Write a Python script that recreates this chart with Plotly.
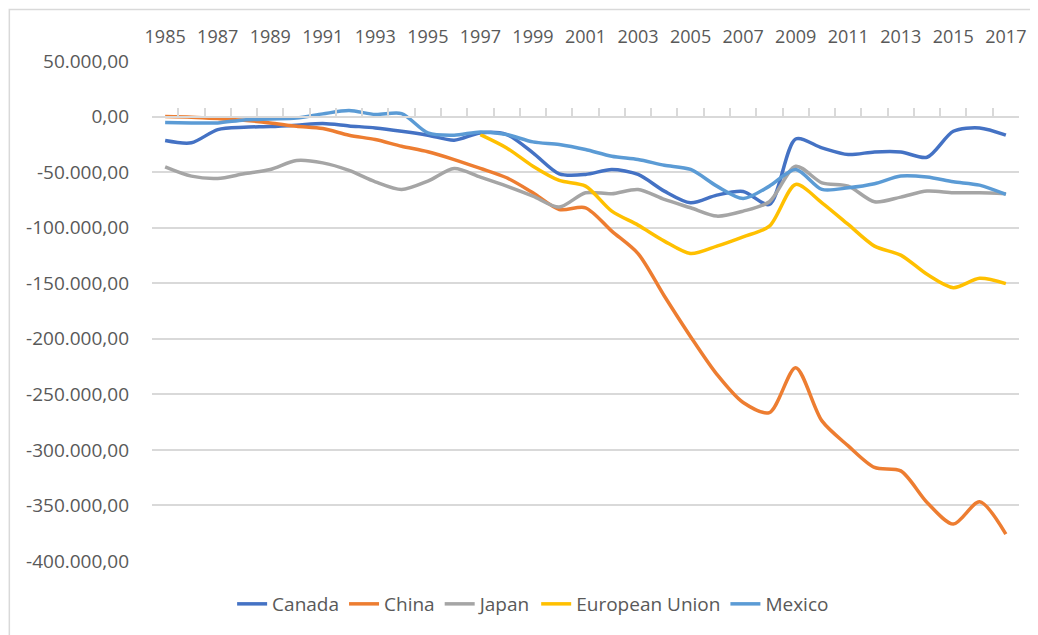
import plotly.graph_objects as go

years = list(range(1985, 2018))

canada = [-21600, -23600, -11700, -9600, -9000, -7800, -6300, -8400, -10200, -13200,
          -16800, -21300, -14700, -16200, -32600, -51500, -52100, -47700, -52100, -67100,
          -77600, -70700, -67400, -79100, -20200, -28200, -34200, -31800, -31800, -36600,
          -13200, -10200, -16800]
china = [0, -600, -1800, -3300, -5700, -8700, -10800, -16800, -20700, -26700,
         -31700, -38700, -46700, -55100, -68600, -83600, -82100, -103100, -123300, -161500,
         -198100, -232000, -257400, -266400, -226000, -273900, -296400, -315800, -318900, -347300,
         -366800, -346700, -375800]
japan = [-45200, -53600, -55700, -51500, -47600, -39600, -41700, -48500, -58700, -65600,
         -58100, -46700, -54500, -62600, -71600, -81500, -68600, -69500, -65600, -74600,
         -82100, -89600, -85100, -76700, -44700, -59600, -62600, -76700, -72500, -67100,
         -68600, -68600, -69500]
eu = [None] * 12 + [-16200, -28200, -44700, -57500, -62600, -85100, -97700, -112100,
                    -123300, -116600, -108200, -98600, -61100, -77600, -97100, -116600, -124700, -142000,
                    -154000, -145600, -150400]
mexico = [-5400, -5700, -5700, -3000, -2100, -1200, 2400, 5400, 1800, 2700,
          -14700, -16800, -13800, -16200, -22800, -25200, -29700, -35700, -38700, -43800,
          -47600, -62600, -73700, -62600, -47600, -65600, -64100, -60500, -53600, -54500,
          -58700, -61700, -70100]

series_names = ["Canada", "China", "Japan", "European Union", "Mexico"]
series_values = [canada, china, japan, eu, mexico]
colors = ["#4472C4", "#ED7D31", "#A5A5A5", "#FFC000", "#5B9BD5"]

y_tickvals = [50000, 0, -50000, -100000, -150000, -200000, -250000, -300000, -350000, -400000]
y_ticktext = ["50.000,00", "0,00", "-50.000,00", "-100.000,00", "-150.000,00", "-200.000,00",
              "-250.000,00", "-300.000,00", "-350.000,00", "-400.000,00"]
x_tickvals = list(range(1985, 2018, 2))
x_ticktext = [str(y) for y in x_tickvals]

FONT = "Open Sans"
TEXT_COLOR = "#595959"
GRID = "#D9D9D9"

fig = go.Figure()
for name, vals, col in zip(series_names, series_values, colors):
    fig.add_trace(go.Scatter(
        x=years, y=vals, name=name, mode="lines",
        line=dict(color=col, width=3.5, shape="spline", smoothing=0.8),
        connectgaps=False,
    ))

# empty trace so the axis drawn at y = 0 (ticks on category boundaries) is realized
fig.add_trace(go.Scatter(x=[], y=[], xaxis="x2", yaxis="y", showlegend=False, hoverinfo="skip"))

ymin, ymax = -400000, 50000
zero_pos = (0 - ymin) / (ymax - ymin)

# page has an 8px body margin: figure is placed at (8, 8)
W, H = 1030, 627
L, R, T, B = 144, 17, 53, 73
PW, PH = W - L - R, H - T - B

fig.update_layout(
    width=W, height=H,
    paper_bgcolor="white", plot_bgcolor="white",
    margin=dict(l=L, r=R, t=T, b=B),
    font=dict(family=FONT, color=TEXT_COLOR, size=18),
    showlegend=True,
    legend=dict(
        orientation="h", x=(534 - 8 - L) / PW, xanchor="center", y=-0.086, yanchor="middle",
        font=dict(family=FONT, size=19, color=TEXT_COLOR),
        itemwidth=30, traceorder="normal", bgcolor="rgba(0,0,0,0)",
    ),
    xaxis=dict(
        range=[1984.5, 2017.5], side="top",
        tickmode="array", tickvals=x_tickvals, ticktext=x_ticktext,
        showgrid=False, zeroline=False, showline=False, ticks="",
        ticklabelstandoff=13,
        tickfont=dict(family=FONT, size=18, color=TEXT_COLOR),
    ),
    xaxis2=dict(
        range=[1984.5, 2017.5], overlaying="x", anchor="free", position=zero_pos,
        side="bottom", showticklabels=False, showgrid=False, zeroline=False,
        showline=True, linecolor=GRID, linewidth=1.5,
        tickmode="linear", tick0=1984.5, dtick=1,
        ticks="inside", ticklen=8, tickwidth=1.5, tickcolor=GRID,
    ),
    yaxis=dict(
        range=[ymin, ymax],
        tickmode="array", tickvals=y_tickvals, ticktext=y_ticktext,
        showgrid=True, gridcolor=GRID, gridwidth=1.5,
        zeroline=False, showline=False, ticks="",
        ticklabelstandoff=22,
        tickfont=dict(family=FONT, size=19, color=TEXT_COLOR),
    ),
    shapes=[dict(
        type="rect", xref="paper", yref="paper",
        x0=(1 - L) / PW, x1=(W + 20 - L) / PW,
        y0=(PH + 0 - (H + 20 - T)) / PH, y1=(PH - (1.5 - T)) / PH,
        line=dict(color="#D9D9D9", width=1.5), fillcolor="rgba(0,0,0,0)", layer="below",
    )],
)

fig.write_html("out.html")
